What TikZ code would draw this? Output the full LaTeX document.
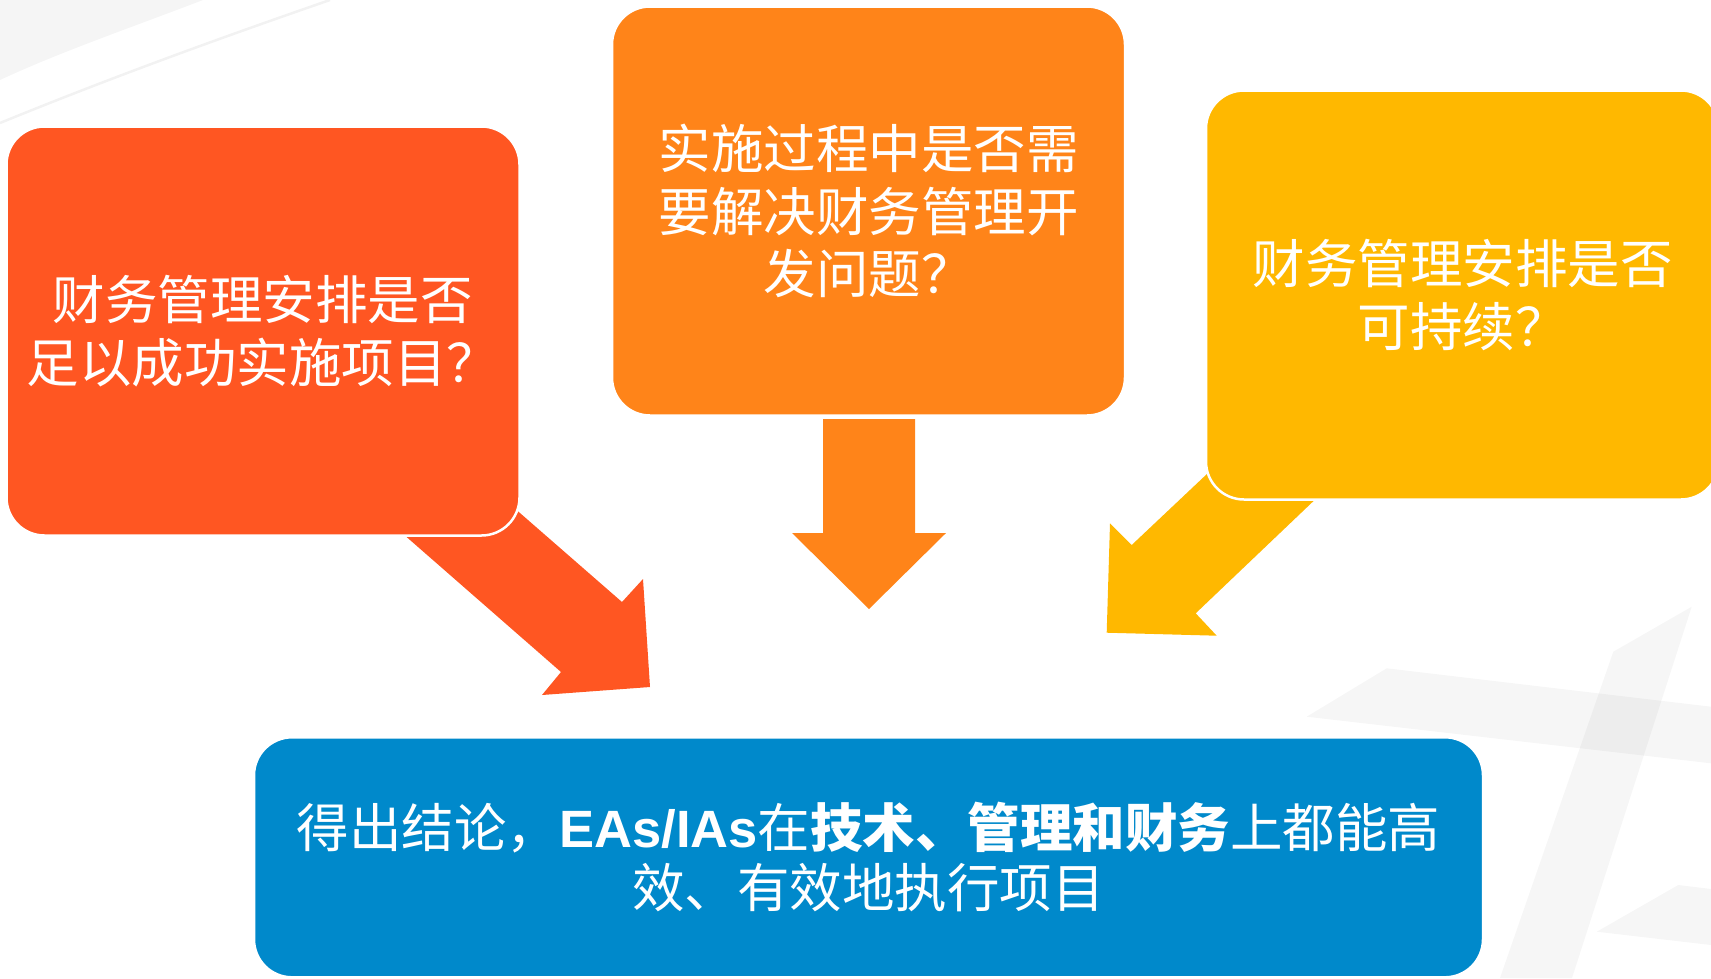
\documentclass[tikz,border=0pt]{standalone}
\usepackage{fontspec}
\newfontfamily\cjk{Noto Sans CJK SC}
\newfontfamily\latin{Liberation Sans}
\definecolor{redorange}{RGB}{255,86,34}
\definecolor{darkorange}{RGB}{255,132,25}
\definecolor{amber}{RGB}{255,184,0}
\definecolor{ocean}{RGB}{0,137,203}
\begin{document}
\begin{tikzpicture}[x=1pt, y=-1pt,
                    box/.style={rounded corners=38pt, draw=white, line width=2.5pt, text=white, align=center,
                                minimum width=513pt, minimum height=409pt, inner sep=0pt,
                                font=\cjk\fontsize{52.5}{62.5}\selectfont},
                    fade/.style={fill=black, fill opacity=0.035}]

  \useasboundingbox (0,0) rectangle (1711,978);
  \clip (0,0) rectangle (1711,978);

  \fill[black!4] (0,0) -- (203,0) .. controls (130,28) and (60,52) .. (0,80) -- cycle;
  \draw[black!5, line width=2.5pt] (330,0) .. controls (220,38) and (110,78) .. (0,123);
  \fill[fade] (1306.7,716.7) -- (1386.7,668.3) -- (1711,706.7) -- (1711,763.3) -- cycle;
  \fill[fade] (1613.3,651.7) -- (1691.7,606.7) -- (1572,978) -- (1500,978) -- cycle;
  \fill[fade] (1596.7,931.7) -- (1678.3,885) -- (1711,889) -- (1711,945) -- cycle;

  \fill[redorange] (378,512) -- (561,672) -- (542,695) -- (650,687) -- (643,579) -- (622,602) -- (489,486) -- cycle;
  \fill[darkorange] (823,419) -- (823,533) -- (792,533) -- (869,609) -- (946,533) -- (915,533) -- (915,419) -- cycle;
  \fill[amber] (1235,447.5) -- (1131.7,545) -- (1110,523.3) -- (1106.7,632.7) -- (1216.7,635.7) -- (1195.7,613.3) -- (1340,475.8) -- cycle;

  \node[box, fill=redorange] (q1) at (263,331) {财务管理安排是否\\足以成功实施项目？};
  \node[box, fill=darkorange] (q2) at (868.5,211) {实施过程中是否需\\要解决财务管理开\\发问题？};
  \node[box, fill=amber] (q3) at (1462.5,295) {财务管理安排是否\\可持续？};
  \node[box, fill=ocean, minimum width=1229pt, minimum height=240pt, font=\cjk\fontsize{52.5}{60}\selectfont] (res) at (868.5,857.3)
    {得出结论，{\latin\bfseries EAs/IAs}在{\bfseries 技术、管理和财务}上都能高\\效、有效地执行项目};

\end{tikzpicture}
\end{document}
